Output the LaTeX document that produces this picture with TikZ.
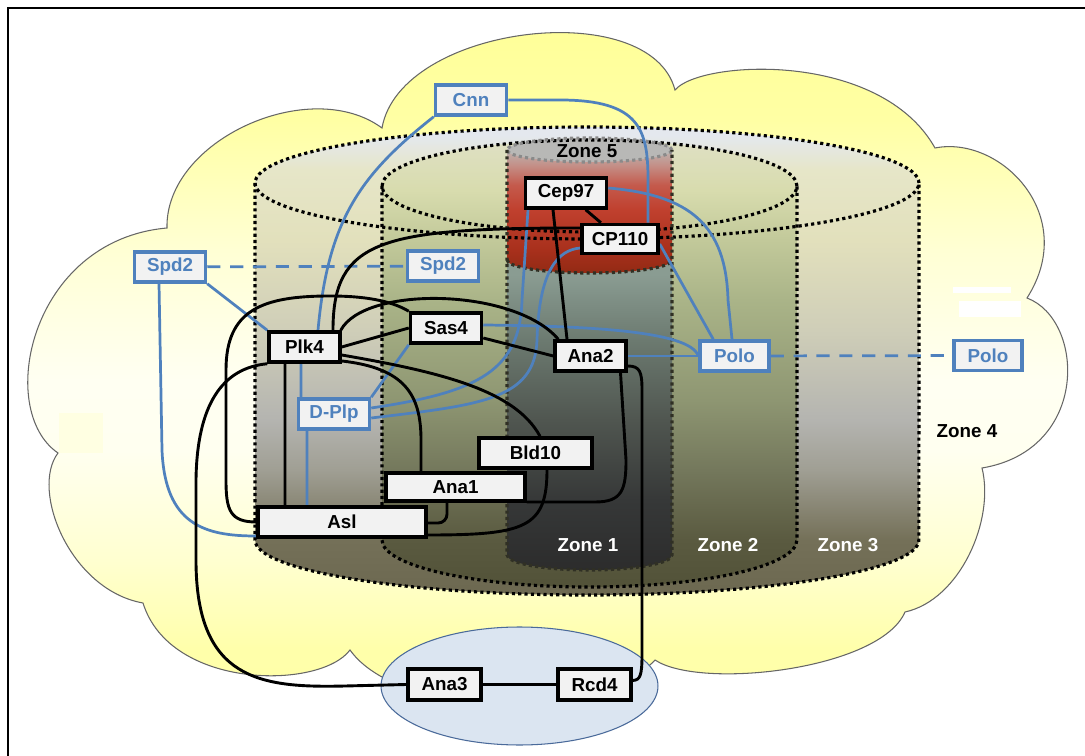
\documentclass[tikz,border=0pt]{standalone}
\usepackage{fontspec}
\setmainfont{Liberation Sans}
\usetikzlibrary{calc}
\definecolor{boxblue}{HTML}{4F81BD}
\definecolor{boxfill}{HTML}{F2F2F2}
\definecolor{ellfill}{HTML}{DBE5F1}
\definecolor{ellline}{HTML}{4A6A9A}
\definecolor{faintyel}{HTML}{FFFFE2}
\definecolor{cl1}{HTML}{FFFFA8}\definecolor{cl2}{HTML}{FFFFAA}\definecolor{cl3}{HTML}{FFFFD0}
\definecolor{cl4}{HTML}{FFFFF0}\definecolor{cl5}{HTML}{FFFFF2}\definecolor{cl6}{HTML}{FFFFD4}
\definecolor{cl7}{HTML}{FFFFA4}\definecolor{cl8}{HTML}{FFFF99}
\definecolor{os1}{HTML}{6C6850}\definecolor{os2}{HTML}{747058}\definecolor{os3}{HTML}{A09F94}
\definecolor{os4}{HTML}{B4B4B0}\definecolor{os5}{HTML}{CFCEB8}\definecolor{os6}{HTML}{E2E0BC}
\definecolor{os7}{HTML}{E6E6C8}\definecolor{os8}{HTML}{E4E8EE}
\definecolor{ms1}{HTML}{525238}\definecolor{ms2}{HTML}{5A5A40}\definecolor{ms3}{HTML}{74785C}
\definecolor{ms4}{HTML}{8E9672}\definecolor{ms5}{HTML}{AAB488}\definecolor{ms6}{HTML}{C2C99A}
\definecolor{ms7}{HTML}{D8DCAE}\definecolor{ms8}{HTML}{DFE0C4}
\definecolor{zs1}{HTML}{2C2C2C}\definecolor{zs2}{HTML}{363838}\definecolor{zs3}{HTML}{505650}
\definecolor{zs4}{HTML}{6C7A70}\definecolor{zs5}{HTML}{8A9C92}
\definecolor{rs1}{HTML}{922A14}\definecolor{rs2}{HTML}{A8301C}\definecolor{rs3}{HTML}{C0402E}
\definecolor{rs4}{HTML}{C45A4C}\definecolor{rs5}{HTML}{C49088}\definecolor{rs6}{HTML}{BCB4B0}
\definecolor{rs7}{HTML}{B8B8B8}
\definecolor{zfivetop}{HTML}{B8B8B6}
\definecolor{innerdot}{HTML}{303024}
\definecolor{graydot}{HTML}{8A8A8A}
\pgfdeclareverticalshading{cloudsh}{100bp}{color(0bp)=(cl1); color(25bp)=(cl1); color(29.8bp)=(cl2); color(36bp)=(cl3); color(43.6bp)=(cl4); color(48.4bp)=(cl5); color(57.4bp)=(cl6); color(66.4bp)=(cl7); color(72.6bp)=(cl8); color(100bp)=(cl8)}
\pgfdeclareverticalshading{outersh}{100bp}{color(0bp)=(os1); color(25bp)=(os1); color(30.9bp)=(os2); color(38.4bp)=(os3); color(43.7bp)=(os4); color(53.3bp)=(os5); color(62.9bp)=(os6); color(70.4bp)=(os7); color(74.1bp)=(os8); color(100bp)=(os8)}
\pgfdeclareverticalshading{middlesh}{100bp}{color(0bp)=(ms1); color(25bp)=(ms1); color(30.3bp)=(ms2); color(38.1bp)=(ms3); color(45.9bp)=(ms4); color(57.1bp)=(ms5); color(63.8bp)=(ms6); color(69.4bp)=(ms7); color(75bp)=(ms8); color(100bp)=(ms8)}
\pgfdeclareverticalshading{zonesh}{100bp}{color(0bp)=(zs1); color(25bp)=(zs1); color(36.3bp)=(zs2); color(49.2bp)=(zs3); color(62.1bp)=(zs4); color(72.6bp)=(zs5); color(100bp)=(zs5)}
\pgfdeclareverticalshading{redsh}{100bp}{color(0bp)=(rs1); color(25bp)=(rs1); color(33.5bp)=(rs2); color(48.3bp)=(rs3); color(57.6bp)=(rs4); color(65bp)=(rs5); color(70.6bp)=(rs6); color(75bp)=(rs7); color(100bp)=(rs7)}
\newcommand{\nodefnt}{\bfseries\fontsize{10.7}{12}\selectfont}
\pgfdeclarelayer{bg}
\pgfsetlayers{bg,main}
\tikzset{
  bx/.style={draw=black, line width=2pt, fill=boxfill, inner sep=0pt, font=\nodefnt,
    minimum width=1.42cm, minimum height=0.6cm},
  bbx/.style={bx, draw=boxblue, text=boxblue},
  conn/.style={line width=1.65pt, draw=black},
  bconn/.style={line width=1.55pt, draw=boxblue},
  bdash/.style={dash pattern=on 7.5pt off 5.5pt},
  dotline/.style={line width=1.8pt, dash pattern=on 1.8pt off 1.8pt},
  zlabel/.style={font=\nodefnt, inner sep=0pt},
}
\begin{document}
\begin{tikzpicture}[x=0.02cm, y=-0.02cm]
\useasboundingbox (0,0) rectangle (1085,756);
% nodes
\node[bbx] (cnn) at (471,100) {Cnn};
\node[bx, minimum width=1.62cm] (cep97) at (566,193) {Cep97};
\node[bx, minimum width=1.52cm, minimum height=0.58cm] (cp110) at (620,239) {CP110};
\node[bbx] (spd2l) at (170,267) {Spd2};
\node[bbx] (spd2r) at (443,266) {Spd2};
\node[bx] (plk4) at (304.5,347) {Plk4};
\node[bx] (sas4) at (446,328) {Sas4};
\node[bbx] (dplp) at (334,414) {D-Plp};
\node[bx] (ana2) at (590.5,356) {Ana2};
\node[bbx, minimum width=1.38cm] (polo) at (734.5,356) {Polo};
\node[bbx, minimum width=1.36cm] (polor) at (988,355.5) {Polo};
\node[bx, minimum width=2.26cm] (bld10) at (535.5,453) {Bld10};
\node[bx, minimum width=2.78cm, minimum height=0.56cm] (ana1) at (455.5,487) {Ana1};
\node[bx, minimum width=3.36cm] (asl) at (342,522) {Asl};
\node[bx, minimum width=1.46cm, minimum height=0.62cm] (ana3) at (444.5,684.5) {Ana3};
\node[bx, minimum width=1.46cm, minimum height=0.62cm] (rcd4) at (594.5,684.5) {Rcd4};

\begin{pgfonlayer}{bg}
% frame
\draw[line width=0.6pt] (8,756) -- (8,8) -- (1085,8);
% cloud
\shade[shading=cloudsh] (382,128) .. controls (400,25) and (650,-5) .. (675,90)
  .. controls (700,60) and (880,50) .. (935,148)
  .. controls (1000,135) and (1080,215) .. (1027,298)
  .. controls (1085,320) and (1090,450) .. (982,468)
  .. controls (995,520) and (960,600) .. (905,612)
  .. controls (880,670) and (700,690) .. (655,660)
  .. controls (600,720) and (400,720) .. (350,650)
  .. controls (320,690) and (170,690) .. (143,603)
  .. controls (70,590) and (30,490) .. (58,453)
  .. controls (-5,410) and (30,240) .. (167,228)
  .. controls (165,140) and (310,75) .. (382,128) -- cycle;
\draw[line width=0.6pt, draw=black!60] (382,128) .. controls (400,25) and (650,-5) .. (675,90)
  .. controls (700,60) and (880,50) .. (935,148)
  .. controls (1000,135) and (1080,215) .. (1027,298)
  .. controls (1085,320) and (1090,450) .. (982,468)
  .. controls (995,520) and (960,600) .. (905,612)
  .. controls (880,670) and (700,690) .. (655,660)
  .. controls (600,720) and (400,720) .. (350,650)
  .. controls (320,690) and (170,690) .. (143,603)
  .. controls (70,590) and (30,490) .. (58,453)
  .. controls (-5,410) and (30,240) .. (167,228)
  .. controls (165,140) and (310,75) .. (382,128) -- cycle;
% patches
\fill[white] (953,287) rectangle (1011,293);
\fill[white] (959,301) rectangle (1021,317);
\fill[faintyel] (59,413) rectangle (103,453);
% outer cylinder
\shade[shading=outersh] (255,183) arc[start angle=180, end angle=0, x radius=6.64cm, y radius=1.12cm]
  -- (919,540) arc[start angle=0, end angle=-180, x radius=6.64cm, y radius=1.1cm] -- cycle;
% middle cylinder
\shade[shading=middlesh] (382,186) arc[start angle=180, end angle=0, x radius=4.15cm, y radius=0.92cm]
  -- (797,540) arc[start angle=0, end angle=-180, x radius=4.15cm, y radius=0.94cm] -- cycle;
% zone 1
\shade[shading=zonesh] (507,260) -- (672,260) -- (672,555)
  arc[start angle=0, end angle=-180, x radius=1.65cm, y radius=0.3cm] -- cycle;
% zone 5
\shade[shading=redsh] (507,150) arc[start angle=180, end angle=0, x radius=1.65cm, y radius=0.24cm]
  -- (672,260) arc[start angle=0, end angle=-180, x radius=1.65cm, y radius=0.26cm] -- cycle;
\fill[zfivetop] (589.5,150) ellipse [x radius=1.65cm, y radius=0.24cm];
% dotted outlines
\draw[dotline] (587,183) ellipse [x radius=6.64cm, y radius=1.12cm];
\draw[dotline] (255,183) -- (255,540) arc[start angle=180, end angle=360, x radius=6.64cm, y radius=1.1cm] -- (919,183);
\draw[dotline] (589.5,186) ellipse [x radius=4.15cm, y radius=0.92cm];
\draw[dotline] (382,186) -- (382,540) arc[start angle=180, end angle=360, x radius=4.15cm, y radius=0.94cm] -- (797,186);
\draw[dotline, draw=graydot] (589.5,150) ellipse [x radius=1.65cm, y radius=0.24cm];
\draw[dotline, draw=innerdot] (507,150) -- (507,555) arc[start angle=180, end angle=360, x radius=1.65cm, y radius=0.3cm] -- (672,150);
\draw[dotline, draw=innerdot] (507,260) arc[start angle=180, end angle=360, x radius=1.65cm, y radius=0.26cm];
% zone labels
\node[zlabel] (z5) at (587,151) {Zone 5};
\node[zlabel, text=white] (z1) at (588,545) {Zone 1};
\node[zlabel, text=white] (z2) at (728,545) {Zone 2};
\node[zlabel, text=white] (z3) at (848,545) {Zone 3};
\node[zlabel] (z4) at (967,431) {Zone 4};
% ellipse
\draw[fill=ellfill, draw=ellline, line width=0.6pt] (519.5,686) ellipse [x radius=2.77cm, y radius=1.18cm];

% blue connectors
\draw[bconn, bdash] (spd2l) -- (spd2r);
\draw[bconn, bdash] (polo) -- (polor);
\draw[bconn] (spd2l.south east) -- (plk4.north west);
\draw[bconn] ([xshift=-0.22cm]spd2l.south) -- (162,450) .. controls (165,525) and (205,536) .. ([yshift=-0.28cm]asl.west);
\draw[bconn] (cnn.south west) .. controls (360,175) and (328,220) .. ([xshift=0.27cm]plk4.north);
\draw[bconn] (cnn.east) -- (560,100) .. controls (640,100) and (648,130) .. (648,180) -- ([xshift=0.56cm]cp110.north);
\draw[bconn] ([yshift=0.1cm]cep97.east) .. controls (690,195) and (726,225) .. (728,300) -- ([xshift=-0.05cm]polo.north);
\draw[bconn] ([yshift=-0.1cm]cp110.east) -- ([xshift=0.3cm]polo.north west);
\draw[bconn] ([yshift=0.06cm]sas4.east) .. controls (580,326) and (690,330) .. (polo.west);
\draw[bconn] (ana2) -- (polo);
\draw[bconn] (sas4.south west) -- (dplp.north east);
\draw[bconn] ([xshift=-0.07cm]plk4.south) -- ([xshift=-0.66cm]dplp.north);
\draw[bconn] ([xshift=-0.54cm]dplp.south) -- ([xshift=-0.7cm]asl.north);
\draw[bconn] ([yshift=0.12cm]dplp.east) .. controls (480,392) and (520,370) .. (522,300) -- ([xshift=-0.76cm]cep97.south);
\draw[bconn] ([yshift=-0.08cm]dplp.east) .. controls (480,405) and (535,400) .. (537,340) .. controls (539,270) and (558,250) .. ([yshift=-0.18cm]cp110.west);

% black connectors
\draw[conn] (plk4.east) -- (sas4.west);
\draw[conn] ([yshift=-0.2cm]sas4.east) -- (ana2.west);
\draw[conn] (cep97) -- (cp110);
\draw[conn] ([xshift=-0.26cm]cep97.south) -- ([xshift=-0.47cm]ana2.north);
\draw[conn] ([yshift=0.22cm]cp110.west) .. controls (380,228) and (333,240) .. ([xshift=0.57cm]plk4.north);
\draw[conn] ([xshift=-0.02cm]plk4.north east) .. controls (365,285) and (515,288) .. ([xshift=0.1cm]ana2.north west);
\draw[conn] (asl.west) .. controls (230,522) and (226,510) .. (226,480) -- (226,370)
  .. controls (226,310) and (262,296) .. (330,296) .. controls (372,296) and (395,303) .. (sas4.north west);
\draw[conn] (plk4.south west) .. controls (222,368) and (197,405) .. (196,480) -- (196,560)
  .. controls (196,680) and (260,688) .. (345,686) -- (ana3.west);
\draw[conn] ([xshift=-0.39cm]plk4.south) -- ([xshift=-1.14cm]asl.north);
\draw[conn] ([yshift=-0.28cm]plk4.east) .. controls (405,368) and (421,395) .. (421,440) -- ([xshift=-0.69cm]ana1.north);
\draw[conn] ([yshift=-0.16cm]plk4.east) .. controls (440,372) and (515,390) .. ([xshift=0.09cm]bld10.north);
\draw[conn, rounded corners=5pt] ([yshift=-0.02cm]asl.east) -| ([xshift=-0.17cm]ana1.south);
\draw[conn] ([yshift=-0.26cm]asl.east) .. controls (525,535) and (547,528) .. ([xshift=0.23cm]bld10.south);
\draw[conn] ([yshift=-0.3cm]ana1.east) -- (595,502) .. controls (622,502) and (626,490) .. (626,460) -- ([xshift=0.6cm]ana2.south);
\draw[conn] ([yshift=-0.2cm]ana2.east) .. controls (640,366) and (642,372) .. (642,390) -- (642,655)
  .. controls (642,676) and (640,680) .. ([yshift=0.08cm]rcd4.east);
\draw[conn] (ana3) -- (rcd4);
\end{pgfonlayer}
\end{tikzpicture}
\end{document}
